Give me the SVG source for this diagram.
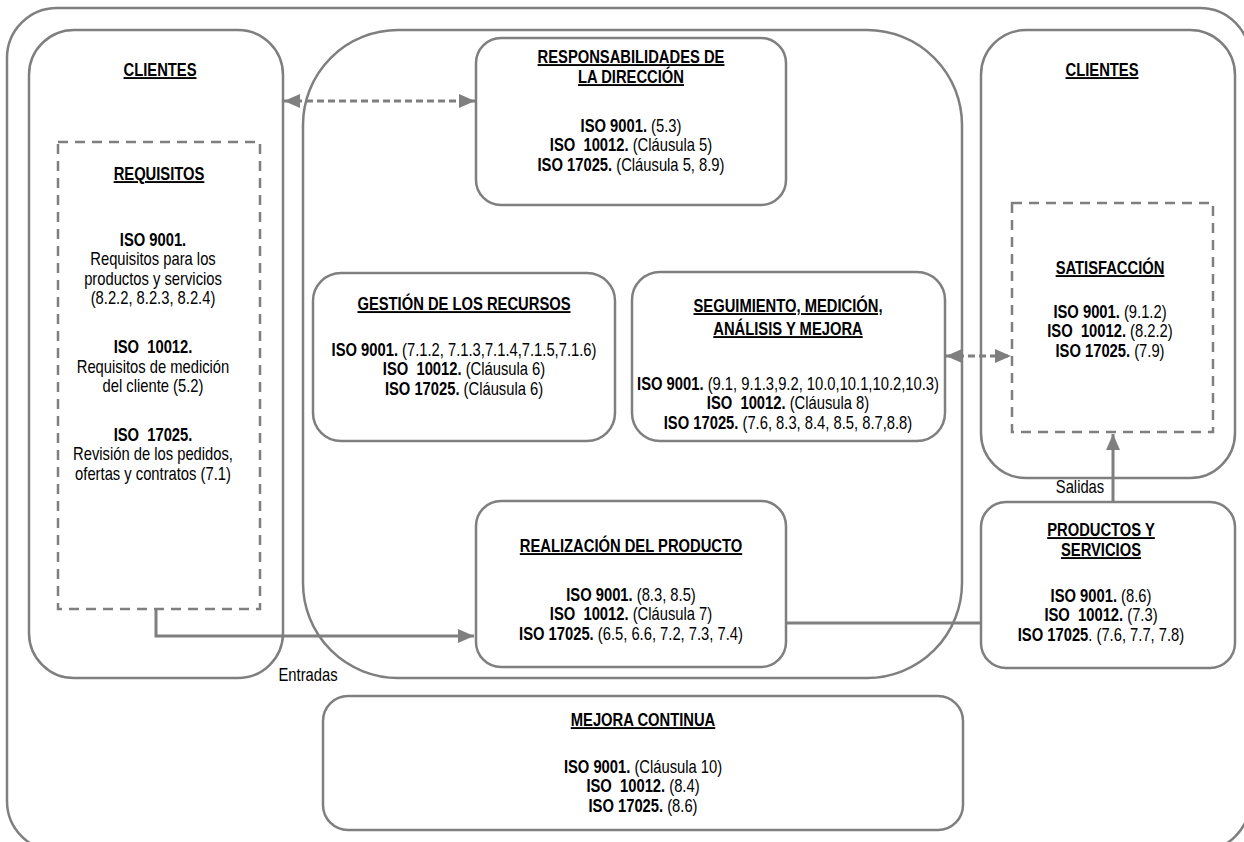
<svg xmlns="http://www.w3.org/2000/svg" width="1244" height="842" viewBox="0 0 1244 842">
<style>
.box{fill:none;stroke:#7f7f7f;stroke-width:2.5}
.dbox{fill:none;stroke:#7f7f7f;stroke-width:2.5;stroke-dasharray:10 7}
.con{fill:none;stroke:#7f7f7f;stroke-width:3}
.dcon{fill:none;stroke:#7f7f7f;stroke-width:3;stroke-dasharray:7 4}
text{font-family:'Liberation Sans',Arial,sans-serif;font-size:19px;fill:#000;text-anchor:middle;white-space:pre}
.t{font-weight:bold;text-decoration:underline}
.b{font-weight:bold}
</style>
<defs>
<marker id="ah" markerUnits="userSpaceOnUse" markerWidth="16" markerHeight="16" viewBox="0 0 16 16" refX="16" refY="8" orient="auto-start-reverse">
<path d="M0,1 L16,8 L0,15 z" fill="#7f7f7f"/>
</marker>
</defs>
<rect id="frame" x="7" y="8" width="1243" height="843" rx="50" class="box"/>
<g id="clientes-left">
<rect x="29" y="30" width="254" height="648" rx="45" class="box"/>
<g transform="translate(160,0) scale(0.777,1)">
<text x="0" y="76" class="t">CLIENTES</text>
</g>
</g>
<g id="requisitos">
<rect x="58" y="142" width="202" height="467" class="dbox"/>
<g transform="translate(159,0) scale(0.777,1)">
<text x="0" y="180" class="t">REQUISITOS</text>
</g>
<g transform="translate(153,0) scale(0.777,1)">
<text x="0" y="246" class="b">ISO 9001.</text>
<text x="0" y="265.5">Requisitos para los</text>
<text x="0" y="285">productos y servicios</text>
<text x="0" y="304.5">(8.2.2, 8.2.3, 8.2.4)</text>
<text x="0" y="353" class="b">ISO  10012.</text>
<text x="0" y="373">Requisitos de medición</text>
<text x="0" y="392.5">del cliente (5.2)</text>
<text x="0" y="441" class="b">ISO  17025.</text>
<text x="0" y="460.5">Revisión de los pedidos,</text>
<text x="0" y="480">ofertas y contratos (7.1)</text>
</g>
</g>
<g id="organizacion">
<rect x="303" y="30" width="659" height="648" rx="95" class="box"/>
</g>
<g id="responsabilidades">
<rect x="476" y="38" width="310" height="167" rx="25" class="box"/>
<g transform="translate(631,0) scale(0.777,1)">
<text x="0" y="63" class="t">RESPONSABILIDADES DE</text>
<text x="0" y="83" class="t">LA DIRECCIÓN</text>
<text x="0" y="132"><tspan class="b">ISO 9001.</tspan> (5.3)</text>
<text x="0" y="151.5"><tspan class="b">ISO  10012.</tspan> (Cláusula 5)</text>
<text x="0" y="171"><tspan class="b">ISO 17025.</tspan> (Cláusula 5, 8.9)</text>
</g>
</g>
<g id="gestion">
<rect x="313" y="273" width="302" height="168" rx="28" class="box"/>
<g transform="translate(464,0) scale(0.777,1)">
<text x="0" y="310" class="t">GESTIÓN DE LOS RECURSOS</text>
<text x="0" y="356"><tspan class="b">ISO 9001.</tspan> (7.1.2, 7.1.3,7.1.4,7.1.5,7.1.6)</text>
<text x="0" y="375.5"><tspan class="b">ISO  10012.</tspan> (Cláusula 6)</text>
<text x="0" y="395"><tspan class="b">ISO 17025.</tspan> (Cláusula 6)</text>
</g>
</g>
<g id="seguimiento">
<rect x="632" y="272" width="313" height="169" rx="28" class="box"/>
<g transform="translate(788,0) scale(0.777,1)">
<text x="0" y="312" class="t">SEGUIMIENTO, MEDICIÓN,</text>
<text x="0" y="335" class="t">ANÁLISIS Y MEJORA</text>
<text x="0" y="390"><tspan class="b">ISO 9001.</tspan> (9.1, 9.1.3,9.2, 10.0,10.1,10.2,10.3)</text>
<text x="0" y="409.5"><tspan class="b">ISO  10012.</tspan> (Cláusula 8)</text>
<text x="0" y="429"><tspan class="b">ISO 17025.</tspan> (7.6, 8.3, 8.4, 8.5, 8.7,8.8)</text>
</g>
</g>
<g id="realizacion">
<rect x="476" y="501" width="310" height="166" rx="25" class="box"/>
<g transform="translate(631,0) scale(0.777,1)">
<text x="0" y="552" class="t">REALIZACIÓN DEL PRODUCTO</text>
<text x="0" y="601"><tspan class="b">ISO 9001.</tspan> (8.3, 8.5)</text>
<text x="0" y="620.5"><tspan class="b">ISO  10012.</tspan> (Cláusula 7)</text>
<text x="0" y="640"><tspan class="b">ISO 17025.</tspan> (6.5, 6.6, 7.2, 7.3, 7.4)</text>
</g>
</g>
<g id="clientes-right">
<rect x="981" y="30" width="254" height="448" rx="45" class="box"/>
<g transform="translate(1102,0) scale(0.777,1)">
<text x="0" y="76" class="t">CLIENTES</text>
</g>
</g>
<g id="satisfaccion">
<rect x="1012" y="203" width="201" height="229" class="dbox"/>
<g transform="translate(1110,0) scale(0.777,1)">
<text x="0" y="274" class="t">SATISFACCIÓN</text>
<text x="0" y="318"><tspan class="b">ISO 9001.</tspan> (9.1.2)</text>
<text x="0" y="337.5"><tspan class="b">ISO  10012.</tspan> (8.2.2)</text>
<text x="0" y="357"><tspan class="b">ISO 17025.</tspan> (7.9)</text>
</g>
</g>
<g id="productos">
<rect x="981" y="502" width="254" height="166" rx="25" class="box"/>
<g transform="translate(1101,0) scale(0.777,1)">
<text x="0" y="536" class="t">PRODUCTOS Y</text>
<text x="0" y="556" class="t">SERVICIOS</text>
<text x="0" y="602"><tspan class="b">ISO 9001.</tspan> (8.6)</text>
<text x="0" y="621.5"><tspan class="b">ISO  10012.</tspan> (7.3)</text>
<text x="0" y="641"><tspan class="b">ISO 17025</tspan>. (7.6, 7.7, 7.8)</text>
</g>
</g>
<g id="mejora">
<rect x="323" y="696" width="640" height="134" rx="25" class="box"/>
<g transform="translate(643,0) scale(0.777,1)">
<text x="0" y="726" class="t">MEJORA CONTINUA</text>
<text x="0" y="773"><tspan class="b">ISO 9001.</tspan> (Cláusula 10)</text>
<text x="0" y="792.5"><tspan class="b">ISO  10012.</tspan> (8.4)</text>
<text x="0" y="812"><tspan class="b">ISO 17025.</tspan> (8.6)</text>
</g>
</g>
<g id="connectors">
<path d="M284,101 H475" class="dcon" marker-start="url(#ah)" marker-end="url(#ah)"/>
<path d="M946,356 H1011" class="dcon" marker-start="url(#ah)" marker-end="url(#ah)"/>
<path d="M156,609 V636 H474" class="con" marker-end="url(#ah)"/>
<path d="M1113,502 V434" class="con" marker-end="url(#ah)"/>
<path d="M786,623 H981" class="con"/>
<g transform="translate(308,0) scale(0.777,1)">
<text x="0" y="681">Entradas</text>
</g>
<g transform="translate(1080,0) scale(0.777,1)">
<text x="0" y="493">Salidas</text>
</g>
</g>
</svg>
